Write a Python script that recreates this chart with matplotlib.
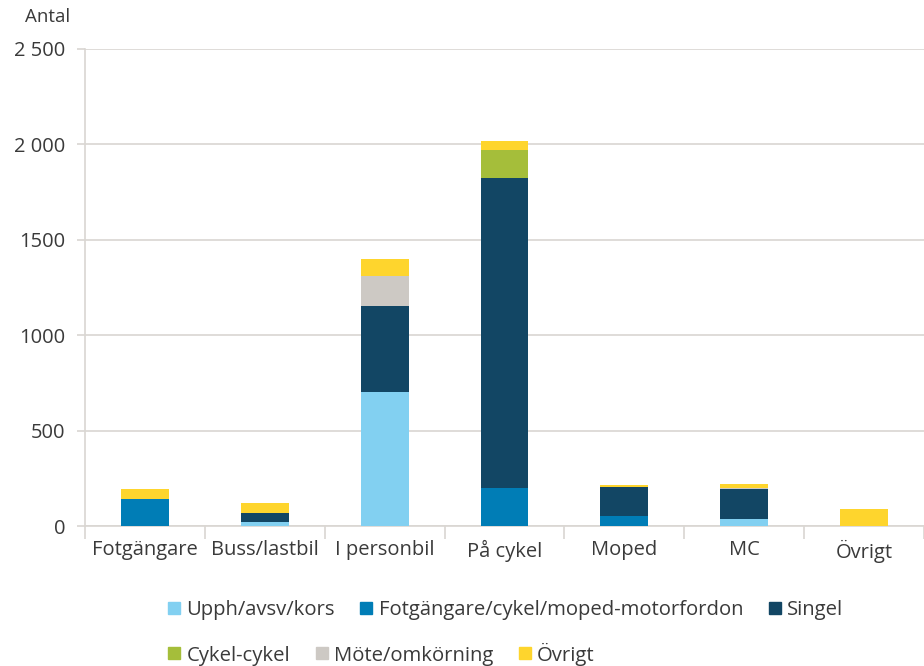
import matplotlib
matplotlib.use("Agg")
import matplotlib.pyplot as plt
from matplotlib.lines import Line2D
import numpy as np

plt.rcParams['font.family'] = ['Open Sans', 'DejaVu Sans']

categories = ["Fotgängare", "Buss/lastbil", "I personbil", "På cykel", "Moped", "MC", "Övrigt"]
series_names = ["Upph/avsv/kors", "Fotgängare/cykel/moped-motorfordon", "Singel",
                "Cykel-cykel", "Möte/omkörning", "Övrigt"]
upph = [0, 20, 700, 0, 0, 38, 0]
fotg = [140, 0, 0, 200, 52, 0, 0]
singel = [0, 50, 452, 1623, 151, 154, 0]
cykel = [0, 0, 0, 147, 0, 0, 0]
mote = [0, 0, 158, 0, 0, 5, 0]
ovrigt = [52, 49, 87, 47, 10, 23, 88]
ytick_vals = [0, 500, 1000, 1500, 2000, 2500]
ytick_labels = ["0", "500", "1000", "1500", "2 000", "2 500"]

colors = ["#82D0F1", "#007DB6", "#124664", "#A5BE3A", "#CDC9C4", "#FED52D"]
series = [upph, fotg, singel, cykel, mote, ovrigt]

fig = plt.figure(figsize=(9.24, 6.66), dpi=100)
ax = fig.add_axes([85/924, 1-526/666, 839/924, 477/666])

x = np.arange(len(categories))
bottom = np.zeros(len(categories))
for vals, c in zip(series, colors):
    ax.bar(x, vals, width=0.4, bottom=bottom, color=c, zorder=3)
    bottom += np.array(vals)

ax.set_xlim(-0.5, len(categories) - 0.5)
ax.set_ylim(0, 2500)
ax.set_yticks(ytick_vals)
ax.set_yticklabels(ytick_labels)
grid_c = "#D9D6D2"
txt_c = "#3a3a3a"
ax.yaxis.grid(True, color=grid_c, linewidth=1.2, zorder=0)
for s in ["top", "right"]:
    ax.spines[s].set_visible(False)
for s in ["left", "bottom"]:
    ax.spines[s].set_color(grid_c)
    ax.spines[s].set_linewidth(1.2)
ax.tick_params(axis='y', length=6, color=grid_c, width=1.2, labelsize=14.5, labelcolor=txt_c, pad=8)
ax.set_xticks(x)
ax.set_xticklabels(categories)
ax.tick_params(axis='x', length=0, labelsize=14.5, labelcolor=txt_c, pad=10)
ax.set_xticks(np.arange(len(categories) + 1) - 0.5, minor=True)
ax.tick_params(axis='x', which='minor', length=9, color=grid_c, width=1.2)

fig.text(25/924, 1-17/666, "Antal", fontsize=13.5, color=txt_c, va="center", ha="left")

handles = [Line2D([0], [0], marker='s', linestyle='', markersize=9, markerfacecolor=c,
                  markeredgecolor=c) for c in colors]
leg1 = fig.legend(handles[:3], series_names[:3], loc="center left", ncol=3,
                  bbox_to_anchor=(146/924, 1-610/666), frameon=False, fontsize=14.6,
                  handletextpad=0.1, columnspacing=1.05, handlelength=1.0, labelcolor=txt_c)
leg2 = fig.legend(handles[3:], series_names[3:], loc="center left", ncol=3,
                  bbox_to_anchor=(146/924, 1-654/666), frameon=False, fontsize=14.6,
                  handletextpad=0.1, columnspacing=1.05, handlelength=1.0, labelcolor=txt_c)

fig.savefig("out.png", dpi=100)
